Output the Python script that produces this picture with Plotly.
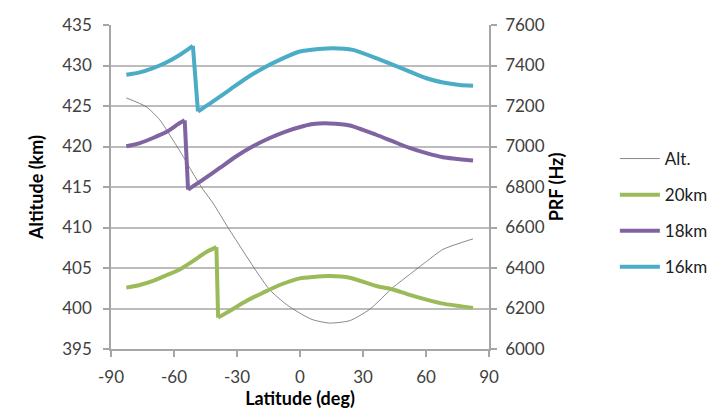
import plotly.graph_objects as go

# Altitude (left axis, km)
alt_lat = [-82.7, -73.2, -66.8, -60.5, -55.7, -51.0, -46.2, -41.4, -34.3, -27.1, -20.8, -14.4, -6.5,
           1.4, 6.2, 14.1, 23.7, 33.2, 44.3, 52.2, 60.2, 68.1, 82.4]
alt_km = [426.0, 424.9, 423.3, 420.8, 418.8, 416.7, 414.7, 413.0, 410.0, 407.1, 404.6, 402.3, 400.5,
          399.2, 398.6, 398.2, 398.5, 399.9, 402.6, 404.2, 405.8, 407.3, 408.6]

# PRF (right axis, Hz)
lat_20 = [-82.7, -76.3, -70.0, -63.7, -57.3, -51.0, -44.6, -39.8,
          -39.0, -33.5, -25.6, -17.6, -9.7, -0.1, 6.2, 14.1, 23.7, 36.3, 44.3, 52.2, 60.2, 68.1, 82.4]
prf_20 = [6303, 6316, 6336, 6364, 6393, 6434, 6479, 6503,
          6155, 6188, 6237, 6278, 6316, 6349, 6356, 6360, 6352, 6311, 6294, 6267, 6244, 6224, 6203]
jump_20 = 7  # index of the point at the top of the drop

lat_18 = [-82.7, -76.3, -70.0, -63.7, -57.3, -54.9,
          -53.3, -46.2, -38.2, -30.3, -22.4, -14.4, -6.5, 1.4, 6.2, 14.1, 23.7, 36.3, 44.3, 52.2, 60.2, 68.1, 82.4]
prf_18 = [7001, 7017, 7042, 7071, 7116, 7129,
          6787, 6836, 6894, 6952, 7001, 7042, 7075, 7100, 7111, 7114, 7104, 7058, 7025, 6993, 6967, 6947, 6931]
jump_18 = 5

lat_16 = [-82.7, -76.3, -70.0, -63.7, -57.3, -51.0,
          -48.6, -41.4, -33.5, -25.6, -17.6, -9.7, -0.1, 4.6, 15.7, 25.2, 36.3, 44.3, 52.2, 60.2, 68.1, 76.0, 82.4]
prf_16 = [7354, 7366, 7387, 7415, 7452, 7497,
          7173, 7223, 7280, 7337, 7387, 7428, 7469, 7477, 7485, 7477, 7436, 7403, 7370, 7337, 7316, 7304, 7300]
jump_16 = 5

x_ticks = [-90, -60, -30, 0, 30, 60, 90]
x_tick_text = ["-90", "-60", "-30", "0", "30", "60", "90"]

FONT = "Lato"
TICK_COLOR = "#404040"
GRID = "#bcbcbc"
AXIS = "#a6a6a6"
FS = 17
TFS = 18

fig = go.Figure()
fig.add_trace(go.Scatter(x=alt_lat, y=alt_km, name="Alt.", mode="lines",
                         line=dict(color="#6a6a6a", width=0.8, shape="spline", smoothing=0.6),
                         yaxis="y", legendgroup="a"))


def add_series(lat, prf, k, name, color, group):
    # smooth part before the drop
    fig.add_trace(go.Scatter(x=lat[:k + 1], y=prf[:k + 1], name=name, mode="lines",
                             line=dict(color=color, width=4, shape="spline", smoothing=0.6),
                             yaxis="y2", legendgroup=group, showlegend=True))
    # the drop itself
    fig.add_trace(go.Scatter(x=lat[k:k + 2], y=prf[k:k + 2], name=name, mode="lines",
                             line=dict(color=color, width=4),
                             yaxis="y2", legendgroup=group, showlegend=False))
    # smooth part after the drop
    fig.add_trace(go.Scatter(x=lat[k + 1:], y=prf[k + 1:], name=name, mode="lines",
                             line=dict(color=color, width=4, shape="spline", smoothing=0.6),
                             yaxis="y2", legendgroup=group, showlegend=False))


add_series(lat_20, prf_20, jump_20, "20km", "#9bbb59", "b")
add_series(lat_18, prf_18, jump_18, "18km", "#8064a2", "c")
add_series(lat_16, prf_16, jump_16, "16km", "#4bacc6", "d")

axis_common = dict(zeroline=False, showline=True, linecolor=AXIS, linewidth=1.5,
                   ticks="outside", ticklen=6, tickcolor=AXIS, tickwidth=1.5,
                   automargin=False)

fig.update_layout(
    template="none",
    width=725, height=411,
    margin=dict(l=103, r=244, t=17, b=70, autoexpand=False),
    paper_bgcolor="white", plot_bgcolor="white",
    font=dict(family=FONT, size=FS, color=TICK_COLOR),
    xaxis=dict(range=[-90, 90], tickvals=x_ticks, ticktext=x_tick_text, showgrid=False,
               ticklabelstandoff=6,
               title=dict(text="<b>Latitude (deg)</b>", font=dict(color="black", size=TFS), standoff=5),
               **axis_common),
    yaxis=dict(range=[395, 435], dtick=5, showgrid=True, gridcolor=GRID, gridwidth=1.5,
               ticklabelstandoff=8,
               title=dict(text="<b>Altitude (km)</b>", font=dict(color="black", size=TFS), standoff=14),
               **axis_common),
    yaxis2=dict(range=[6000, 7600], dtick=200, overlaying="y", side="right", showgrid=False,
                ticklabelstandoff=5,
                title=dict(text="<b>PRF (Hz)</b>", font=dict(color="black", size=TFS), standoff=7),
                **axis_common),
    legend=dict(x=1.333, y=0.642, xanchor="left", yanchor="top",
                traceorder="grouped", tracegroupgap=11, itemwidth=40,
                font=dict(size=FS, color="#202020"), bgcolor="rgba(0,0,0,0)"),
    showlegend=True,
)

fig.write_html("out.html")
